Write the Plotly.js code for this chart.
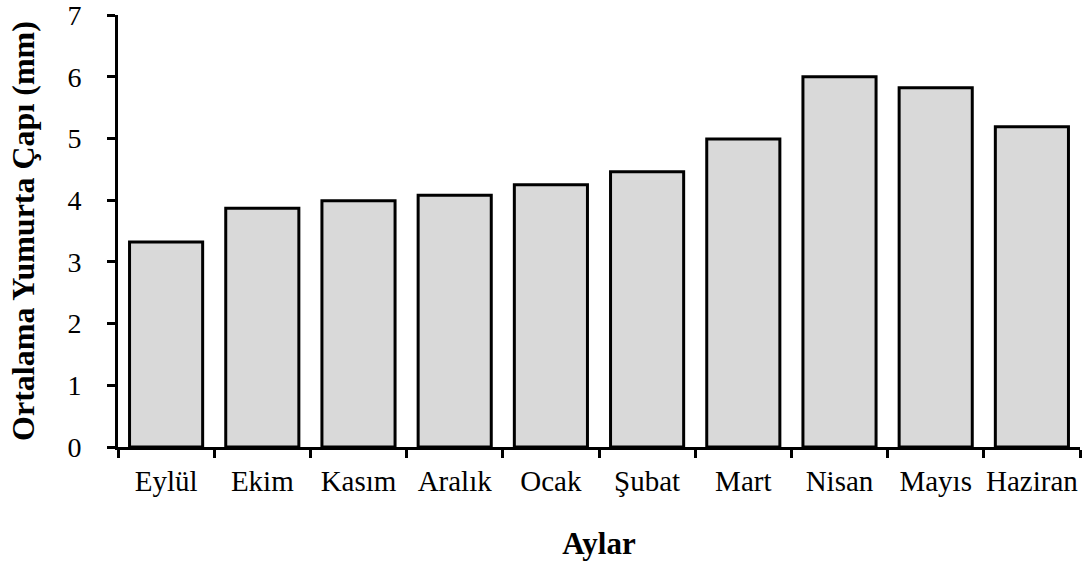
<!DOCTYPE html>
<html>
<head>
<meta charset="utf-8">
<script src="https://cdn.plot.ly/plotly-3.0.1.min.js"></script>
<style>html,body{margin:0;padding:0;background:#fff;}</style>
</head>
<body>
<div id="chart" style="width:1086px;height:564px;"></div>
<script>
const months = ["Eylül", "Ekim", "Kasım", "Aralık", "Ocak", "Şubat", "Mart", "Nisan", "Mayıs", "Haziran"];
const eggDiameter = [3.32, 3.87, 3.99, 4.08, 4.25, 4.46, 4.99, 6.0, 5.82, 5.19];
const yTicks = [0, 1, 2, 3, 4, 5, 6, 7];

const font = "'Liberation Serif', 'Times New Roman', serif";

const trace = {
  type: "bar",
  x: months,
  y: eggDiameter,
  marker: { color: "#d9d9d9", line: { color: "#000", width: 3 } },
  hoverinfo: "x+y"
};

const layout = {
  width: 1086,
  height: 564,
  margin: { l: 118, r: 6, t: 15, b: 117 },
  paper_bgcolor: "#fff",
  plot_bgcolor: "#fff",
  bargap: 0.24,
  showlegend: false,
  font: { family: font, color: "#000", size: 29 },
  xaxis: {
    type: "category",
    showline: true,
    linecolor: "#000",
    linewidth: 3,
    ticks: "outside",
    tickson: "boundaries",
    ticklen: 8,
    tickwidth: 3,
    tickcolor: "#000",
    tickangle: 0,
    showgrid: false,
    zeroline: false,
    automargin: false,
    ticklabeloverflow: "allow",
    tickfont: { family: font, size: 29, color: "#000" },
    ticklabelstandoff: 6,
    title: { text: "<b>Aylar</b>", font: { family: font, size: 31, color: "#000" }, standoff: 37 }
  },
  yaxis: {
    range: [0, 7],
    tickvals: yTicks,
    showline: true,
    linecolor: "#000",
    linewidth: 3,
    ticks: "outside",
    ticklen: 8,
    tickwidth: 3,
    tickcolor: "#000",
    showgrid: false,
    zeroline: false,
    automargin: false,
    ticklabeloverflow: "allow",
    tickfont: { family: font, size: 28, color: "#000" },
    ticklabelstandoff: 20,
    title: { text: "<b>Ortalama Yumurta Çapı (mm)</b>", font: { family: font, size: 32, color: "#000" }, standoff: 24 }
  }
};

Plotly.newPlot("chart", [trace], layout, { displayModeBar: false, staticPlot: true });
</script>
</body>
</html>
